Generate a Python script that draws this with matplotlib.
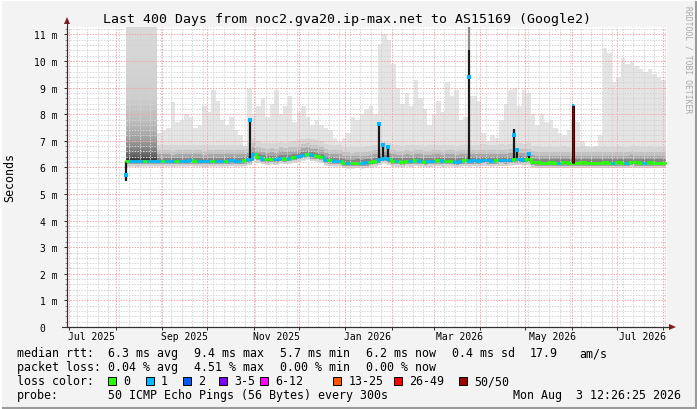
import numpy as np
import pandas as pd
import matplotlib
matplotlib.use("Agg")
import matplotlib.pyplot as plt
import matplotlib.dates as mdates
from matplotlib.collections import LineCollection
from matplotlib.patches import Polygon, Rectangle
from matplotlib.lines import Line2D

# === time frame (last 400 days) ===
START = pd.Timestamp("2025-06-29 12:26:25")
END = pd.Timestamp("2026-08-03 12:26:25")
FIRST_BUCKET = pd.Timestamp("2025-08-07 12:26:25")
BUCKET_DAYS = 3

# === median rtt per 3-day bucket (ms) ===
median_rtt = [
    6.23, 6.24, 6.23, 6.24, 6.25, 6.24, 6.25,
    6.24, 6.25, 6.24, 6.23, 6.25, 6.24, 6.24, 6.26, 6.25, 6.24,
    6.23, 6.25, 6.24, 6.25, 6.24, 6.25, 6.26, 6.24, 6.25, 6.26,
    6.30, 6.50, 6.38, 6.33, 6.30,
    6.32, 6.30, 6.35, 6.33, 6.36, 6.38,
    6.42, 6.47, 6.50, 6.45, 6.43, 6.40,
    6.28, 6.26, 6.25, 6.24,
    6.18, 6.17, 6.16, 6.18, 6.17, 6.19, 6.20, 6.24,
    6.30, 6.35, 6.30,
    6.24, 6.23, 6.22, 6.24, 6.23, 6.26, 6.24, 6.22, 6.23, 6.24,
    6.26, 6.23, 6.25, 6.24, 6.22, 6.24, 6.26,
    6.25,
    6.26, 6.25, 6.27, 6.26, 6.25, 6.26, 6.27, 6.26, 6.28,
    6.30, 6.30, 6.28, 6.30,
    6.20, 6.19, 6.18, 6.18, 6.19, 6.18, 6.18, 6.19, 6.18, 6.18,
    6.18, 6.19, 6.18, 6.18, 6.18, 6.18, 6.19, 6.18, 6.18, 6.19,
    6.18, 6.18, 6.20, 6.19, 6.18, 6.18, 6.19, 6.18, 6.18, 6.18,
]

# highest smoke (slowest ping) per bucket (ms)
smoke_top = [
    12.0, 12.0, 12.0, 12.0, 12.0, 12.0, 12.0,
    7.3, 7.4, 7.5, 8.47, 7.7, 7.8, 8.0, 7.9, 7.5, 7.6,
    8.3, 8.1, 8.9, 8.5, 7.8, 7.6, 7.9, 7.4, 7.2, 6.8,
    8.96, 8.0, 8.3, 8.6, 7.9,
    8.4, 8.9, 8.0, 8.3, 8.7, 7.7,
    8.1, 8.3, 7.9, 7.6, 7.8, 7.6,
    7.5, 7.4, 7.1, 6.95,
    7.1, 7.3, 7.9, 7.8, 8.0, 8.2, 8.3, 8.0,
    10.65, 11.0, 10.8,
    9.9, 9.0, 8.4, 8.8, 8.3, 9.3, 8.6, 8.2, 7.6, 8.0,
    8.5, 8.1, 9.2, 8.7, 8.9, 7.8, 7.9,
    8.7,
    8.7, 8.5, 7.3, 7.0, 7.2, 7.1, 7.8, 8.4, 8.9,
    9.0, 8.3, 8.9, 8.8,
    8.0, 7.6, 8.0, 7.7, 7.8, 7.5, 7.3, 7.2, 7.4, 7.8,
    7.7, 7.0, 6.8, 6.75, 6.8, 7.2, 10.5, 10.3, 9.2, 9.4,
    10.1, 9.9, 10.0, 9.8, 9.7, 9.6, 9.7, 9.5, 9.4, 9.3,
]

# loss colour index per bucket (0 = no loss, 1 = 1 ping lost)
loss_idx = ("0111011"
            "10110111011101101110"
            "11010011010110100101101001100"
            "11101001010110100110"
            "11111101110110"
            "000000100000000000100100010000")

# dense smoke block in August 2025
block_start = pd.Timestamp("2025-08-07 12:26:25")
block_end = pd.Timestamp("2025-08-27 18:00:00")
block_floor = 6.28

# short spikes
spike_dates = ["2025-08-07 19:00", "2025-10-29 20:00", "2026-01-23 12:00",
               "2026-01-26 12:00", "2026-01-29 12:00", "2026-03-24 12:00",
               "2026-04-23 12:00", "2026-04-25 18:00", "2026-05-03 12:00",
               "2026-06-01 20:00"]
spike_rtt = [5.73, 7.77, 7.64, 6.85, 6.75, 9.4, 7.2, 6.64, 6.5, 8.33]
spike_dark = [5.47, 7.77, 7.64, 6.9, 6.8, 10.4, 7.45, 6.7, 6.55, 8.33]
spike_haze = [5.47, 7.77, 7.64, 6.9, 6.8, 11.3, 7.45, 6.7, 6.55, 8.33]
spike_loss = [1, 1, 1, 1, 1, 1, 1, 1, 1, 7]

LOSS_COLORS = ["#26ff00", "#00b8ff", "#0059ff", "#7e00ff",
               "#ff00ff", "#ff5500", "#ff0000", "#a10000"]
LOSS_LABELS = ["0", "1", "2", "3-5", "6-12", "13-25", "26-49", "50/50"]

assert len(median_rtt) == len(smoke_top) == len(loss_idx)

MONO = "DejaVu Sans Mono"
W, H = 697, 410


def fx(px):
    return px / W


def fy(py):
    return 1 - py / H


fig = plt.figure(figsize=(W / 100, H / 100), dpi=100, facecolor="#f3f3f3")
ax = fig.add_axes([fx(67), fy(328), 600 / W, 300 / H])
ax.set_facecolor("white")
ymax = 300 / 26.6
t0, t1 = mdates.date2num(START), mdates.date2num(END)

n = len(median_rtt)
starts = mdates.date2num(FIRST_BUCKET) + BUCKET_DAYS * np.arange(n)
edges = np.append(starts, starts[-1] + BUCKET_DAYS)
med = np.array(median_rtt)
top = np.minimum(np.array(smoke_top), ymax)


def step_fill(lo, hi, color, z):
    ax.fill_between(edges, np.append(lo, lo[-1]), np.append(hi, hi[-1]),
                    step="post", color=color, lw=0, zorder=z)


# light smoke
step_fill(med - 0.22, top, "#e4e4e4", 1.0)

# smoke gradient around the median
above = [(0.6, "#d6d6d6"), (0.4, "#c2c2c2"), (0.25, "#a6a6a6"), (0.12, "#858585")]
for off, col in above:
    step_fill(med, np.minimum(med + off, np.maximum(top, med)), col, 1.2)
below = [(0.2, "#d2d2d2"), (0.12, "#a2a2a2"), (0.06, "#5e5e5e")]
for off, col in below:
    step_fill(med - off, med, col, 1.2)

# dense smoke block (gradient)
ys = np.linspace(block_floor, ymax, 300)
anchors_y = [block_floor, 6.4, 6.7, 7.1, 7.7, 8.7, ymax]
anchors_g = [0.2, 0.36, 0.52, 0.64, 0.74, 0.81, 0.855]
g = np.interp(ys, anchors_y, anchors_g)
img = np.repeat(g[::-1, None, None], 3, axis=2) * np.ones((1, 2, 3))
ax.imshow(img, extent=[mdates.date2num(block_start), mdates.date2num(block_end),
                       block_floor, ymax],
          aspect="auto", interpolation="bilinear", zorder=1.3)

ax.set_xlim(t0, t1)
ax.set_ylim(0, ymax)

# spikes
for d, rtt, dark, haze, li in zip(spike_dates, spike_rtt, spike_dark, spike_haze, spike_loss):
    t = mdates.date2num(pd.Timestamp(d))
    base = med[int((t - starts[0]) // BUCKET_DAYS)]
    if haze > dark:
        ax.plot([t, t], [dark, haze], color="#8a8a8a", lw=1.6, zorder=3,
                solid_capstyle="butt")
    if li == 7:
        ax.plot([t, t], [base, rtt], color="#2a0000", lw=2.2, zorder=4.1,
                solid_capstyle="butt")
        ax.plot([t, t], [base, rtt], color=LOSS_COLORS[li], lw=0.9, zorder=4.2,
                solid_capstyle="butt")
        ax.plot([t], [rtt], marker="s", ms=1.6, mew=0, color="#00b8ff", zorder=4.3)
    else:
        ax.plot([t, t], [base, dark], color="#1a1a1a", lw=1.6, zorder=3.1,
                solid_capstyle="butt")
        ax.plot([t], [rtt], marker="s", ms=2.2, mew=0, color=LOSS_COLORS[li],
                zorder=4.3)

# median line coloured by loss
segs, cols = [], []
for i in range(n):
    c = LOSS_COLORS[int(loss_idx[i])]
    segs.append([(edges[i], med[i]), (edges[i + 1], med[i])])
    cols.append(c)
    if i > 0:
        segs.append([(edges[i], med[i - 1]), (edges[i], med[i])])
        cols.append(c)
ax.add_collection(LineCollection(segs, colors=cols, linewidths=1.8, zorder=4,
                                 capstyle="projecting"))

# grid
ax.set_axisbelow(False)
ax.xaxis.set_major_locator(mdates.MonthLocator())
ax.xaxis.set_minor_locator(mdates.WeekdayLocator(byweekday=mdates.SU))
ax.xaxis.set_major_formatter(plt.NullFormatter())
ax.set_yticks(np.arange(0, 12))
ax.set_yticks(np.arange(0, 11.3, 0.2), minor=True)
ax.set_yticklabels(["0  "] + [f"{v} m" for v in range(1, 12)],
                   family=MONO, fontsize=7)
ax.grid(which="major", color="#f4a4a4", ls=(0, (1.4, 1.4)), lw=0.72)
ax.grid(which="minor", color="#d4d4d4", ls=(0, (1.4, 1.4)), lw=0.72)
ax.tick_params(axis="y", which="major", length=2.5, width=0.72, pad=4.5, color="#303030")
ax.tick_params(axis="y", which="minor", length=1.5, width=0.72, color="#909090")
ax.tick_params(axis="x", which="major", length=2.5, width=0.72, color="#303030")
ax.tick_params(axis="x", which="minor", length=0)
for s in ["top", "right"]:
    ax.spines[s].set_visible(False)
ax.spines["left"].set_color("#303030")
ax.spines["bottom"].set_color("#303030")
ax.spines["left"].set_linewidth(0.8)
ax.spines["bottom"].set_linewidth(0.8)

# month labels
label_dates = ["2025-07-16", "2025-09-16", "2025-11-16", "2026-01-16",
               "2026-03-18", "2026-05-19", "2026-07-18"]
label_text = ["Jul 2025", "Sep 2025", "Nov 2025", "Jan 2026",
              "Mar 2026", "May 2026", "Jul 2026"]
for d, s in zip(label_dates, label_text):
    ax.text(mdates.date2num(pd.Timestamp(d)), -9.5 / 300, s, transform=ax.get_xaxis_transform(),
            ha="center", va="center", family=MONO, fontsize=7)

# axis extensions and arrows
fig.add_artist(Line2D([fx(67), fx(67)], [fy(328), fy(21)], color="#303030", lw=0.8))
fig.add_artist(Line2D([fx(62), fx(670)], [fy(328), fy(328)], color="#303030", lw=0.8))
fig.add_artist(Polygon([(fx(64), fy(25)), (fx(70), fy(25)), (fx(67), fy(18))],
                       closed=True, color="#8b1a1a", lw=0))
fig.add_artist(Polygon([(fx(669), fy(325)), (fx(669), fy(331)), (fx(676), fy(328))],
                       closed=True, color="#8b1a1a", lw=0))

# titles
fig.text(fx(347), fy(19), "Last 400 Days from noc2.gva20.ip-max.net to AS15169 (Google2)",
         ha="center", va="center", family=MONO, fontsize=9.5)
fig.text(fx(10), fy(178), "Seconds", rotation=90, ha="center", va="center",
         family=MONO, fontsize=8.4)
fig.text(fx(688), fy(60), "RRDTOOL / TOBI OETIKER", rotation=-90, ha="center",
         va="center", family=MONO, fontsize=5.8, color="#a8a8a8")

# legend
rows = [
    (354, [(16.7, "median rtt:"), (107.7, "6.3 ms avg"), (193.7, "9.4 ms max"),
           (279.7, "5.7 ms min"), (365.7, "6.2 ms now"), (451.7, "0.4 ms sd"),
           (530, "17.9"), (579.3, "am/s")]),
    (368, [(16.7, "packet loss:"), (107.7, "0.04 % avg"), (193.7, "4.51 % max"),
           (279.7, "0.00 % min"), (365.7, "0.00 % now")]),
    (382, [(16.7, "loss color:")]),
    (396, [(16.7, "probe:"), (107.7, "50 ICMP Echo Pings (56 Bytes) every 300s")]),
]
for yy, chunks in rows:
    for xx, s in chunks:
        fig.text(fx(xx), fy(yy), s, ha="left", va="center", family=MONO, fontsize=8.4)
fig.text(fx(681), fy(396), "Mon Aug  3 12:26:25 2026", ha="right", va="center",
         family=MONO, fontsize=8.4)

swatch_x = [108.3, 145.7, 182.7, 219.3, 260, 333.3, 394.3, 459.3]
for xx, col, lab in zip(swatch_x, LOSS_COLORS, LOSS_LABELS):
    fig.add_artist(Rectangle((fx(xx), fy(386)), 8 / W, 8 / H, facecolor=col,
                             edgecolor="black", lw=0.7))
    fig.text(fx(xx + 15), fy(382), lab, ha="left", va="center", family=MONO, fontsize=8.4)

# 3d frame
fig.add_artist(Line2D([0, 1], [fy(409), fy(409)], color="#9a9a9a", lw=2.2))
fig.add_artist(Line2D([fx(696), fx(696)], [0, 1], color="#9a9a9a", lw=2.2))
fig.add_artist(Line2D([0, 1], [fy(0.7), fy(0.7)], color="#ffffff", lw=1.4))
fig.add_artist(Line2D([fx(0.7), fx(0.7)], [0, 1], color="#ffffff", lw=1.4))

fig.savefig("out.png", dpi=100, facecolor=fig.get_facecolor())
